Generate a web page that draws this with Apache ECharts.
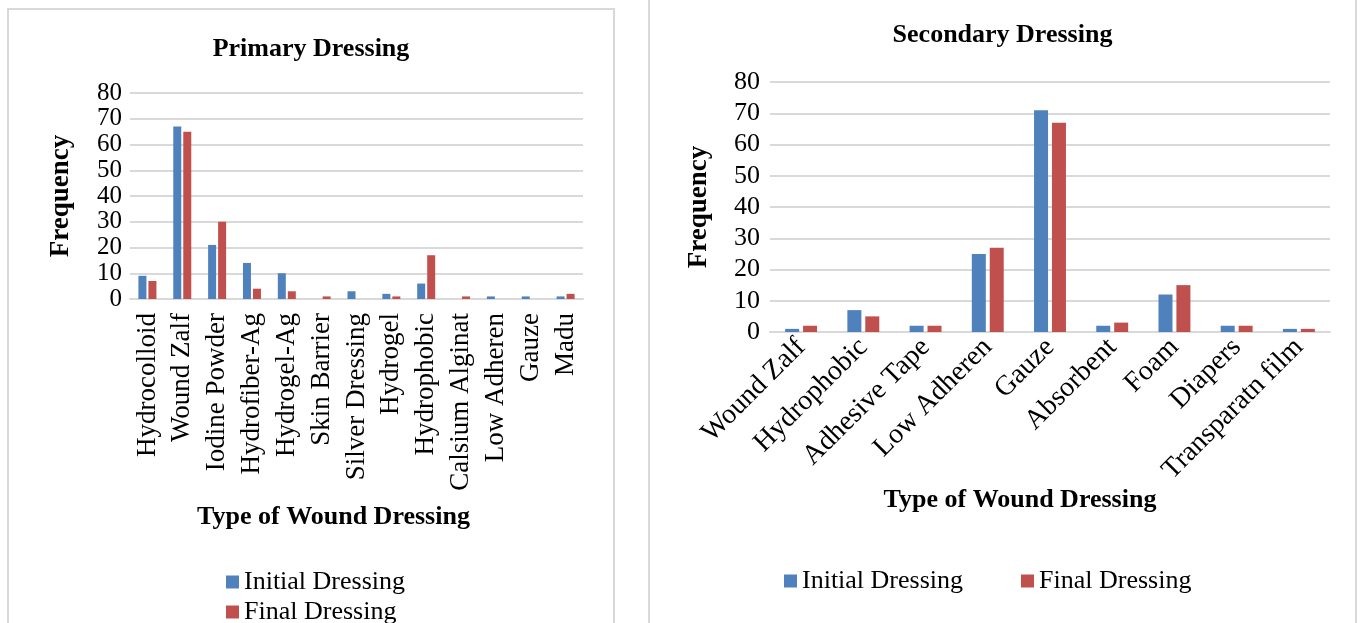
<!DOCTYPE html>
<html>
<head>
<meta charset="utf-8">
<script src="https://cdn.jsdelivr.net/npm/echarts@6/dist/echarts.min.js"></script>
<style>
  html, body { margin: 0; padding: 0; background: #fff; width: 1362px; height: 623px; overflow: hidden; position: relative; }
  .panel { position: absolute; box-sizing: border-box; border: 2px solid #d9d9d9; background: #fff; }
  #p1 { left: 7px; top: 8px; width: 608px; height: 640px; }
  #p2 { left: 648px; top: -10px; width: 709px; height: 660px; }
  .chart { width: 100%; height: 100%; }
</style>
</head>
<body>
<div id="p1" class="panel"><div id="c1" class="chart"></div></div>
<div id="p2" class="panel"><div id="c2" class="chart"></div></div>
<script>
const primaryCategories = ['Hydrocolloid','Wound Zalf','Iodine Powder','Hydrofiber-Ag','Hydrogel-Ag','Skin Barrier','Silver Dressing','Hydrogel','Hydrophobic','Calsium Alginat','Low Adheren','Gauze','Madu'];
const primaryInitial = [9, 67, 21, 14, 10, 0, 3, 2, 6, 0, 1, 1, 1];
const primaryFinal   = [7, 65, 30, 4, 3, 1, 0, 1, 17, 1, 0, 0, 2];

const secondaryCategories = ['Wound Zalf','Hydrophobic','Adhesive Tape','Low Adheren','Gauze','Absorbent','Foam','Diapers','Transparatn film'];
const secondaryInitial = [1, 7, 2, 25, 71, 2, 12, 2, 1];
const secondaryFinal   = [2, 5, 2, 27, 67, 3, 15, 2, 1];

const seriesNames = ['Initial Dressing', 'Final Dressing'];
const yTicks = { min: 0, max: 80, interval: 10 };

const FONT = '"Liberation Serif", "Times New Roman", serif';
const BLUE = '#4F81BD', RED = '#C0504D';

function makeOption(cfg) {
  return {
    animation: false,
    textStyle: { fontFamily: FONT, color: '#000' },
    title: {
      text: cfg.title, left: 'center', top: cfg.titleTop,
      textStyle: { fontFamily: FONT, fontSize: 26, fontWeight: 'bold', color: '#000' }
    },
    legend: Object.assign({
      data: seriesNames,
      icon: 'rect', itemWidth: 13, itemHeight: 13,
      textStyle: { fontFamily: FONT, fontSize: 26, color: '#000' }
    }, cfg.legend),
    grid: cfg.grid,
    xAxis: {
      type: 'category', data: cfg.categories,
      name: 'Type of Wound Dressing', nameLocation: 'middle', nameGap: cfg.xNameGap,
      nameTextStyle: { fontFamily: FONT, fontSize: 26, fontWeight: 'bold', color: '#000', padding: cfg.xNamePad },
      axisLine: { lineStyle: { color: '#d9d9d9', width: 2 } },
      axisTick: { show: false },
      axisLabel: { interval: 0, rotate: cfg.rotate, margin: cfg.labelMargin, fontFamily: FONT, fontSize: cfg.xLabelSize, color: '#000' }
    },
    yAxis: {
      type: 'value', min: yTicks.min, max: yTicks.max, interval: yTicks.interval,
      name: 'Frequency', nameLocation: 'middle', nameGap: cfg.yNameGap, nameRotate: 90,
      nameTextStyle: { fontFamily: FONT, fontSize: 27, fontWeight: 'bold', color: '#000' },
      axisLine: { show: false }, axisTick: { show: false },
      axisLabel: { margin: cfg.yLabelMargin, fontFamily: FONT, fontSize: cfg.yLabelSize, color: '#000',
                   showMinLabel: true, showMaxLabel: true, hideOverlap: false },
      splitLine: { lineStyle: { color: '#d9d9d9', width: 2 } }
    },
    series: [
      { name: seriesNames[0], type: 'bar', data: cfg.initial, barWidth: cfg.barWidth, barGap: cfg.barGap,
        itemStyle: { color: BLUE } },
      { name: seriesNames[1], type: 'bar', data: cfg.final, barWidth: cfg.barWidth, barGap: cfg.barGap,
        itemStyle: { color: RED } }
    ]
  };
}

const c1 = echarts.init(document.getElementById('c1'), null, { renderer: 'canvas' });
c1.setOption(makeOption({
  title: 'Primary Dressing', titleTop: 21,
  categories: primaryCategories, initial: primaryInitial, final: primaryFinal,
  grid: { left: 121, top: 83, width: 453, height: 206 },
  rotate: 90, labelMargin: 14, xLabelSize: 27, xNameGap: 205, xNamePad: [0, 46, 0, 0], yNameGap: 55, yLabelMargin: 8, yLabelSize: 25,
  barWidth: 8, barGap: '25%',
  legend: { orient: 'vertical', left: 212, top: 554, itemGap: 4 }
}));

const c2 = echarts.init(document.getElementById('c2'), null, { renderer: 'canvas' });
c2.setOption(makeOption({
  title: 'Secondary Dressing', titleTop: 25,
  categories: secondaryCategories, initial: secondaryInitial, final: secondaryFinal,
  grid: { left: 120, top: 90, width: 560, height: 250 },
  rotate: 45, labelMargin: 11, xLabelSize: 28, xNameGap: 145, xNamePad: [0, 60, 0, 0], yNameGap: 57, yLabelMargin: 10, yLabelSize: 26,
  barWidth: 14, barGap: '28%',
  legend: { orient: 'horizontal', left: 129, top: 571, itemGap: 58 }
}));
</script>
</body>
</html>
